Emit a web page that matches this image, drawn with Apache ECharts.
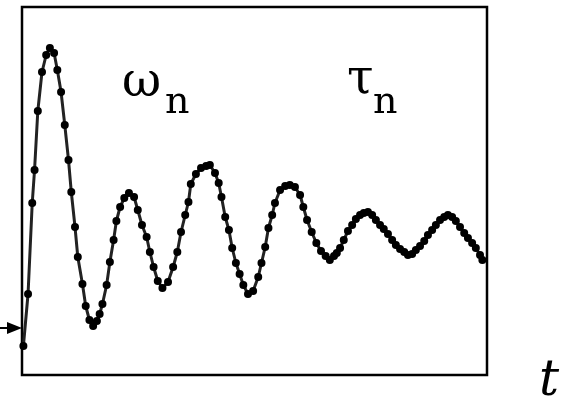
<!DOCTYPE html>
<html>
<head>
<meta charset="utf-8">
<script src="https://cdn.jsdelivr.net/npm/echarts@6/dist/echarts.min.js"></script>
<style>
  html, body { margin: 0; padding: 0; background: #fff; }
  #chart { width: 567px; height: 398px; }
</style>
</head>
<body>
<div id="chart"></div>
<script>
// Sampled response of a damped oscillation (time in s, amplitude in arbitrary units)
const time = [
  0.03, 0.13, 0.22, 0.27, 0.34, 0.43, 0.52, 0.60, 0.69, 0.76,
  0.84, 0.92, 1.00, 1.06, 1.14, 1.20, 1.30, 1.37, 1.45, 1.53,
  1.61, 1.67, 1.73, 1.82, 1.89, 1.97, 2.03, 2.11, 2.20, 2.30,
  2.41, 2.49, 2.58, 2.68, 2.75, 2.83, 2.92, 3.02, 3.14, 3.25,
  3.34, 3.42, 3.51, 3.58, 3.63, 3.74, 3.85, 3.96, 4.04, 4.15,
  4.23, 4.29, 4.37, 4.45, 4.52, 4.60, 4.68, 4.76, 4.86, 4.97,
  5.08, 5.15, 5.23, 5.30, 5.38, 5.44, 5.55, 5.66, 5.76, 5.87,
  5.98, 6.05, 6.13, 6.23, 6.33, 6.43, 6.53, 6.62, 6.71, 6.77,
  6.84, 6.92, 7.01, 7.10, 7.18, 7.27, 7.35, 7.44, 7.53, 7.61,
  7.70, 7.78, 7.87, 7.96, 8.04, 8.13, 8.22, 8.30, 8.39, 8.47,
  8.56, 8.65, 8.73, 8.82, 8.90, 8.99, 9.08, 9.16, 9.25, 9.33,
  9.42, 9.51, 9.59, 9.68, 9.76, 9.85, 9.90
];
const response = [
  -1.06, -0.54, 0.37, 0.70, 1.29, 1.68, 1.85, 1.92, 1.87, 1.70,
  1.48, 1.15, 0.80, 0.48, 0.13, -0.17, -0.44, -0.66, -0.80, -0.86,
  -0.81, -0.74, -0.64, -0.45, -0.22, 0.00, 0.19, 0.33, 0.42, 0.47,
  0.43, 0.30, 0.15, 0.03, -0.12, -0.27, -0.41, -0.48, -0.42, -0.27,
  -0.12, 0.08, 0.25, 0.38, 0.56, 0.66, 0.72, 0.74, 0.75, 0.67,
  0.57, 0.43, 0.23, 0.10, -0.08, -0.23, -0.34, -0.45, -0.54, -0.51,
  -0.37, -0.23, -0.07, 0.12, 0.25, 0.37, 0.50, 0.54, 0.55, 0.53,
  0.45, 0.33, 0.20, 0.08, -0.03, -0.11, -0.16, -0.20, -0.16, -0.13,
  -0.08, 0.00, 0.09, 0.15, 0.21, 0.25, 0.27, 0.28, 0.25, 0.20,
  0.15, 0.11, 0.06, 0.00, -0.05, -0.09, -0.12, -0.15, -0.14, -0.10,
  -0.06, -0.01, 0.05, 0.10, 0.15, 0.20, 0.23, 0.25, 0.23, 0.19,
  0.13, 0.07, 0.02, -0.03, -0.08, -0.15, -0.20
];
// Level of the input step marked by the arrow on the left edge
const inputLevel = -0.88;
const timeRange = [0, 10];
const ampRange = [-1.35, 2.33];

const points = time.map((t, i) => [t, response[i]]);

const chart = echarts.init(document.getElementById('chart'), null, { renderer: 'canvas' });

chart.setOption({
  animation: false,
  backgroundColor: '#ffffff',
  grid: {
    left: 22, top: 7, right: 80, bottom: 23,
    show: true, borderColor: '#000', borderWidth: 2.5, backgroundColor: 'transparent'
  },
  xAxis: {
    type: 'value', min: timeRange[0], max: timeRange[1],
    axisLine: { show: false }, axisTick: { show: false },
    axisLabel: { show: false }, splitLine: { show: false }
  },
  yAxis: {
    type: 'value', min: ampRange[0], max: ampRange[1],
    axisLine: { show: false }, axisTick: { show: false },
    axisLabel: { show: false }, splitLine: { show: false }
  },
  series: [{
    type: 'line',
    data: points,
    smooth: false,
    lineStyle: { color: '#222', width: 3 },
    symbol: 'circle',
    symbolSize: 8,
    itemStyle: { color: '#000' },
    clip: true
  }]
});

// Annotations: natural frequency / time constant labels, time axis name, input arrow
const arrowY = chart.convertToPixel({ yAxisIndex: 0 }, inputLevel);
const plotLeft = chart.convertToPixel({ xAxisIndex: 0 }, timeRange[0]);

function label(text, x, y, size, italic) {
  return {
    type: 'text', x: x, y: y,
    style: {
      text: text, fontFamily: 'DejaVu Serif', fontSize: size,
      fontStyle: italic ? 'italic' : 'normal',
      fill: '#000', textAlign: 'left', textVerticalAlign: 'bottom'
    }
  };
}

chart.setOption({
  graphic: [
    label('ω', 122, 108, 48),
    label('n', 165, 122, 38),
    label('τ', 347, 105, 48),
    label('n', 373, 122, 38),
    label('t', 539, 407, 50, true),
    {
      type: 'line',
      shape: { x1: 0, y1: arrowY, x2: plotLeft - 12, y2: arrowY },
      style: { stroke: '#000', lineWidth: 2 }
    },
    {
      type: 'polygon',
      shape: { points: [[plotLeft - 15, arrowY - 6], [plotLeft, arrowY], [plotLeft - 15, arrowY + 6]] },
      style: { fill: '#000' }
    }
  ]
});
</script>
</body>
</html>
